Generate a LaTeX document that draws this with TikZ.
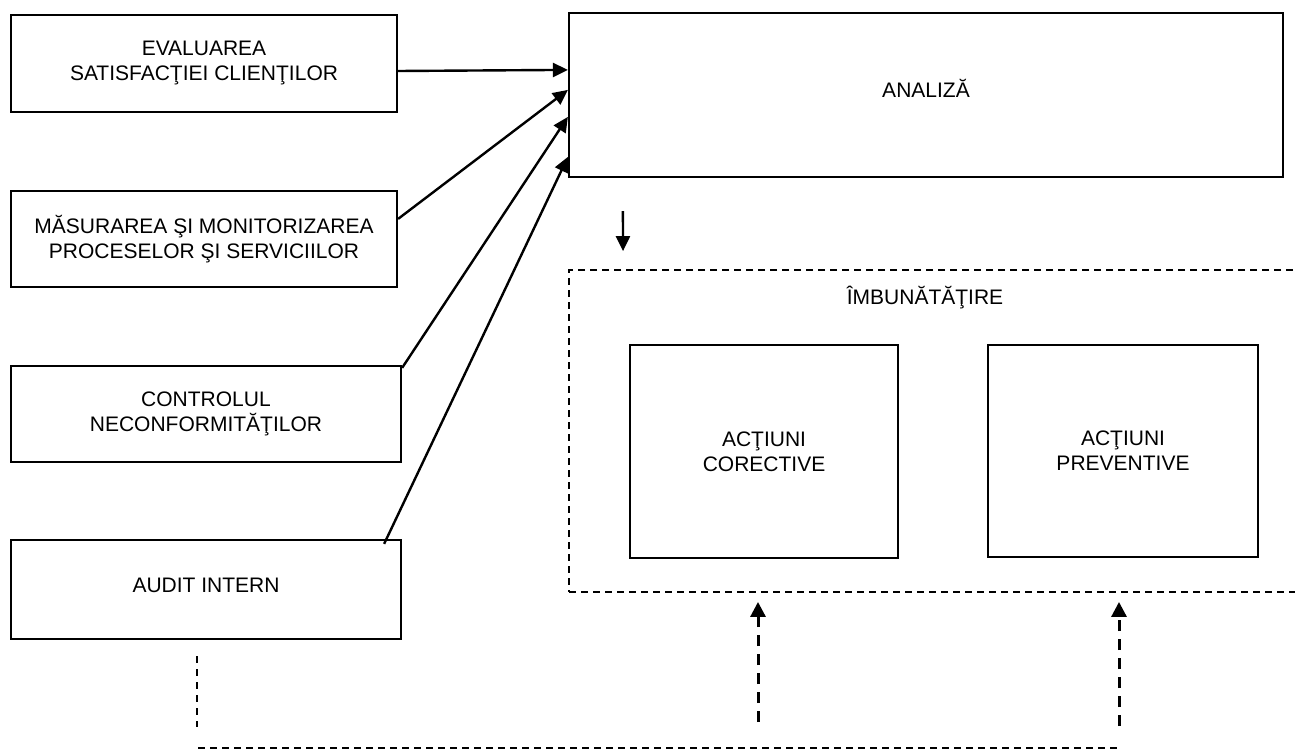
\documentclass[tikz,border=0pt]{standalone}
\usepackage{fontspec}
\setmainfont{Liberation Sans}
\usetikzlibrary{arrows.meta,calc}
\begin{document}
\begin{tikzpicture}[x=1pt,y=-1pt,
  txt/.style={font=\fontsize{21}{25}\selectfont, align=center, inner sep=0pt},
  box/.style={txt, draw, line width=2.2pt},
  dbox/.style={draw, line width=1.9pt, dash pattern=on 7pt off 5pt, inner sep=0pt},
  arr/.style={line width=2.4pt, -{Triangle[length=15pt,width=14pt]}},
  darr/.style={line width=3pt, dash pattern=on 11pt off 8pt, -{Triangle[length=15pt,width=15pt]}},
  thindash/.style={line width=1.9pt, dash pattern=on 7pt off 5pt}]
\clip (0,0) rectangle (1295,749);

% input boxes on the left
\node[box, minimum width=386pt, minimum height=97pt] (ev) at (204,63.5)
  {EVALUAREA\\SATISFACŢIEI CLIENŢILOR};
\node[box, minimum width=386pt, minimum height=96pt] (ms) at (204,239)
  {MĂSURAREA ŞI MONITORIZAREA\\PROCESELOR ŞI SERVICIILOR};
\node[box, minimum width=390pt, minimum height=96pt] (co) at (206,414)
  {CONTROLUL\\NECONFORMITĂŢILOR};
\node[box, minimum width=390pt, minimum height=99pt, text depth=8pt] (au) at (206,589.5)
  {AUDIT INTERN};

% analysis box
\node[box, minimum width=714pt, minimum height=164pt, text depth=14pt] (an) at (926,95)
  {ANALIZĂ};

% improvement group
\node[dbox, minimum width=741pt, minimum height=322pt] (imb) at (939.5,431) {};
\node[txt] (imbt) at ([xshift=357pt,yshift=-28pt]imb.north west) {ÎMBUNĂTĂŢIRE};
\node[box, minimum width=268pt, minimum height=213pt] (cor) at (764,451.5)
  {ACŢIUNI\\CORECTIVE};
\node[box, minimum width=270pt, minimum height=212pt] (prev) at (1123,451)
  {ACŢIUNI\\PREVENTIVE};

% inputs to analysis
\draw[arr] ([yshift=-7.5pt]ev.east) -- ([yshift=-58pt]an.north west);
\draw[arr] ([yshift=-29pt]ms.north east) -- ([yshift=-78pt]an.north west);
\draw[arr] ([yshift=-3pt]co.north east) -- ([yshift=-105pt]an.north west);
\draw[arr] ([xshift=-18pt,yshift=-5pt]au.north east) -- ([yshift=-145pt]an.north west);

% analysis to improvement
\draw[arr] ([xshift=55pt,yshift=-33pt]an.south west) -- ([xshift=55pt,yshift=18pt]imb.north west);

% feedback loop at the bottom
\coordinate (d1) at (758,722);
\coordinate (d2) at (1119,726);
\coordinate (l1) at (197,656);
\coordinate (l2) at (197,727);
\coordinate (b1) at (198,748);
\coordinate (b2) at (1117,748);
\draw[darr] (d1) -- ($(d1 |- imb.south)+(0,9)$);
\draw[darr] (d2) -- ($(d2 |- imb.south)+(0,9)$);
\draw[line width=2pt, dash pattern=on 7pt off 6pt] (l1) -- (l2);
\draw[thindash] (b1) -- (b2);
\end{tikzpicture}
\end{document}
